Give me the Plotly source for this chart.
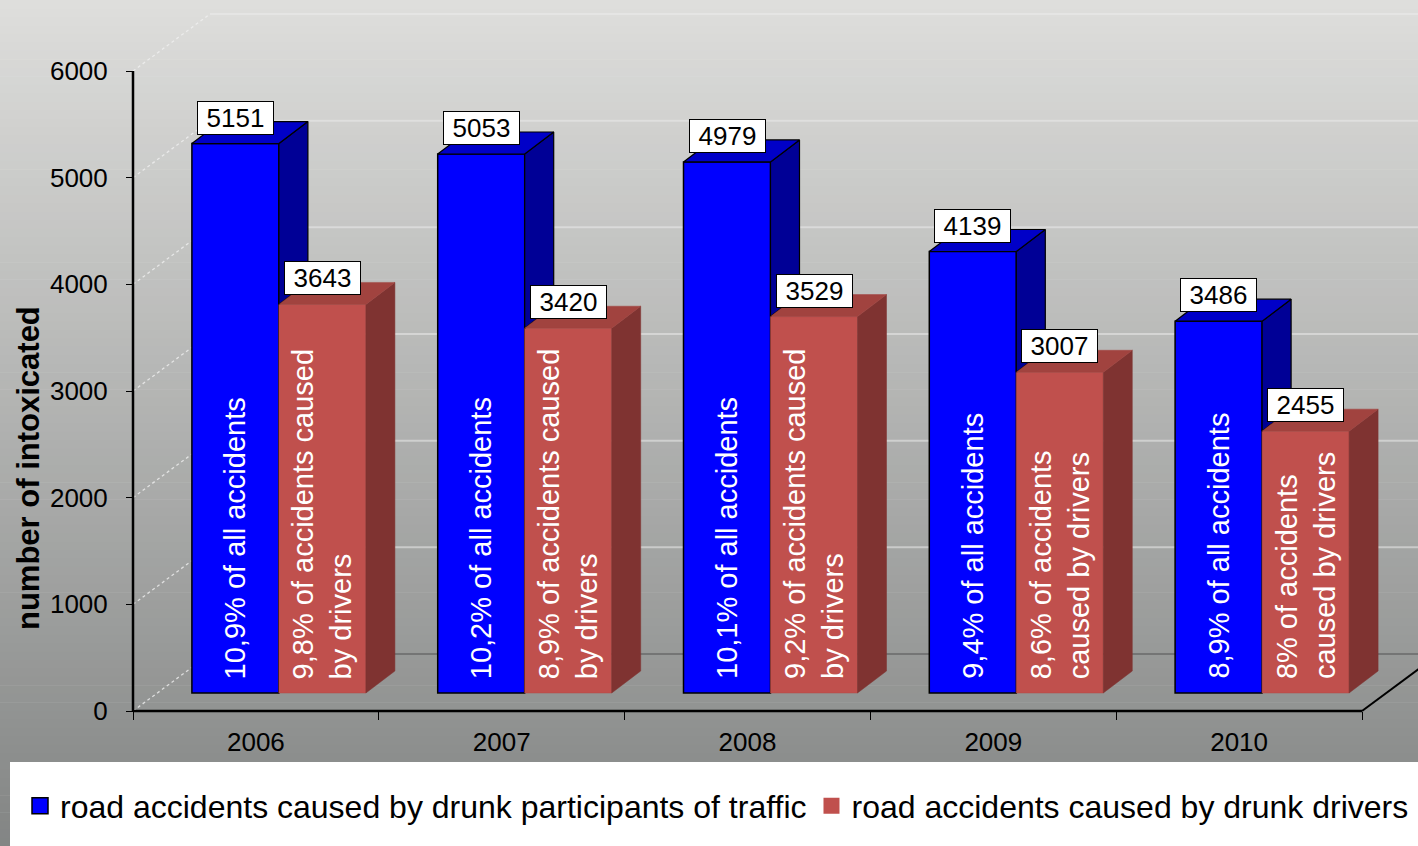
import plotly.graph_objects as go

# ---------------- data ----------------
years = ["2006", "2007", "2008", "2009", "2010"]
participants = [5151, 5053, 4979, 4139, 3486]
drivers = [3643, 3420, 3529, 3007, 2455]
participants_text = [
    "10,9% of all accidents",
    "10,2% of all accidents",
    "10,1% of all accidents",
    "9,4% of all accidents",
    "8,9% of all accidents",
]
drivers_text = [
    "9,8% of accidents caused<br>by drivers",
    "8,9% of accidents caused<br>by drivers",
    "9,2% of accidents caused<br>by drivers",
    "8,6% of accidents<br>caused by drivers",
    "8% of accidents<br>caused by drivers",
]
series_names = [
    "road accidents caused by drunk participants of traffic",
    "road accidents caused by drunk drivers",
]
y_ticks = [0, 1000, 2000, 3000, 4000, 5000, 6000]

# ---------------- geometry (pixel based styling) ----------------
W, H = 1418, 846
AX_X = 133          # px of front y axis
AX_Y = 711          # px of value 0 on front plane
SX = 245.8          # px per category
SY = 640 / 6000     # px per unit value
FONT = "Arial, Liberation Sans, sans-serif"

x_range = [-0.5 - AX_X / SX, -0.5 + (W - AX_X) / SX]
y_range = [-(H - AX_Y) / SY, AX_Y / SY]

DXu, DYu = 77 / SX, 57 / SY        # full depth of the floor
OFFX, OFFY = 23 / SX, 18 / SY      # bars' front plane offset
BDX, BDY = 29 / SX, 22 / SY        # bar depth
BW = 87 / SX                       # bar width

n = len(years)
cx = [i + OFFX for i in range(n)]
x_blue = [c - BW / 2 for c in cx]
x_red = [c + BW / 2 for c in cx]

BLUE, BLUE_TOP, BLUE_SIDE = "#0000FF", "#0000C8", "#000096"
RED, RED_TOP, RED_SIDE = "#C0504D", "#A1433F", "#7F3331"

fig = go.Figure()

fig.add_trace(go.Bar(
    x=x_blue, y=participants, base=[OFFY] * n, width=BW,
    marker=dict(color=BLUE, line=dict(color="black", width=1.5)),
    showlegend=False, hoverinfo="y", name=series_names[0],
))
fig.add_trace(go.Bar(
    x=x_red, y=drivers, base=[OFFY] * n, width=BW,
    marker=dict(color=RED, line=dict(color="#B34A47", width=0.5)),
    showlegend=False, hoverinfo="y", name=series_names[1],
))


def poly_trace(xs, ys, fill, line_color, lw):
    return go.Scatter(x=xs, y=ys, mode="lines", fill="toself", fillcolor=fill,
                      line=dict(color=line_color, width=lw), hoverinfo="skip",
                      showlegend=False, connectgaps=False)


bt_x, bt_y, bs_x, bs_y, rt_x, rt_y, rs_x, rs_y = ([] for _ in range(8))
for i in range(n):
    b = OFFY + participants[i]
    r = OFFY + drivers[i]
    x0 = cx[i] - BW
    x1 = cx[i]
    x2 = cx[i] + BW
    bt_x += [x0, x1, x1 + BDX, x0 + BDX, x0, None]
    bt_y += [b, b, b + BDY, b + BDY, b, None]
    bs_x += [x1, x1, x1 + BDX, x1 + BDX, x1, None]
    bs_y += [r, b, b + BDY, r + BDY, r, None]
    rt_x += [x1, x2, x2 + BDX, x1 + BDX, x1, None]
    rt_y += [r, r, r + BDY, r + BDY, r, None]
    rs_x += [x2, x2, x2 + BDX, x2 + BDX, x2, None]
    rs_y += [OFFY, r, r + BDY, OFFY + BDY, OFFY, None]

fig.add_trace(poly_trace(bs_x, bs_y, BLUE_SIDE, "black", 1.2))
fig.add_trace(poly_trace(bt_x, bt_y, BLUE_TOP, "black", 1.2))
fig.add_trace(poly_trace(rs_x, rs_y, RED_SIDE, RED_SIDE, 0.5))
fig.add_trace(poly_trace(rt_x, rt_y, RED_TOP, RED_TOP, 0.5))

# legend proxies
fig.add_trace(go.Scatter(x=[None], y=[None], mode="markers", name=series_names[0],
                         marker=dict(symbol="square", size=16, color=BLUE,
                                     line=dict(color="black", width=1.5))))
fig.add_trace(go.Scatter(x=[None], y=[None], mode="markers", name=series_names[1],
                         marker=dict(symbol="square", size=16, color=RED,
                                     line=dict(color=RED, width=0))))

# ---------------- shapes ----------------
shapes = []
# background gradient (full height)
NB = 100
top_c = (222, 222, 220)
bot_c = (140, 142, 141)   # colour at y = 762 px
for k in range(NB):
    y_top = k * H / NB
    y_bot = (k + 1) * H / NB + 0.6
    t = ((y_top + y_bot) / 2) / 762
    c = tuple(max(0, round(top_c[j] + (bot_c[j] - top_c[j]) * t)) for j in range(3))
    shapes.append(dict(type="rect", xref="paper", yref="paper", layer="below",
                       x0=0, x1=1, y0=max(0, 1 - y_bot / H), y1=1 - y_top / H,
                       fillcolor="rgb(%d,%d,%d)" % c, line=dict(width=0)))
# legend white area
shapes.append(dict(type="rect", xref="paper", yref="paper", layer="below",
                   x0=10 / W, x1=1, y0=0, y1=(H - 762) / H,
                   fillcolor="white", line=dict(width=0)))
# back wall gridlines & side wall diagonals
for v in y_ticks:
    if v == 0:
        shapes.append(dict(type="line", xref="x", yref="y", layer="below",
                           x0=-0.5 + DXu, x1=x_range[1], y0=v + DYu, y1=v + DYu,
                           line=dict(color="rgba(70,70,70,0.85)", width=1.2)))
    else:
        shapes.append(dict(type="line", xref="x", yref="y", layer="below",
                           x0=-0.5 + DXu, x1=x_range[1], y0=v + DYu, y1=v + DYu,
                           line=dict(color="rgba(235,235,235,0.55)", width=2)))
    shapes.append(dict(type="line", xref="x", yref="y", layer="below",
                       x0=-0.5, x1=-0.5 + DXu, y0=v, y1=v + DYu,
                       line=dict(color="rgba(240,240,240,0.8)", width=1.3, dash="dot")))
# axis lines
shapes.append(dict(type="line", xref="x", yref="y", layer="above",
                   x0=-0.5, x1=-0.5, y0=0, y1=6000, line=dict(color="black", width=2.5)))
shapes.append(dict(type="line", xref="x", yref="y", layer="above",
                   x0=-0.5, x1=n - 0.5, y0=0, y1=0, line=dict(color="black", width=2.5)))
shapes.append(dict(type="line", xref="x", yref="y", layer="above",
                   x0=n - 0.5, x1=n - 0.5 + DXu, y0=0, y1=DYu,
                   line=dict(color="black", width=2)))

# ---------------- annotations ----------------
annotations = []
for i in range(n):
    for xc, val, txt in ((x_blue[i], participants[i], participants_text[i]),
                         (x_red[i], drivers[i], drivers_text[i])):
        # value label box above the bar
        annotations.append(dict(
            x=xc, y=OFFY + val, xref="x", yref="y", text=str(val),
            showarrow=False, yanchor="bottom", yshift=9,
            width=75, height=32, bgcolor="white", bordercolor="black",
            borderwidth=1, borderpad=0,
            font=dict(size=26, color="black", family=FONT)))
        # rotated description inside the bar
        annotations.append(dict(
            x=xc, y=OFFY, xref="x", yref="y", text=txt,
            showarrow=False, textangle=-90, align="left",
            xanchor="center", yanchor="bottom", yshift=12,
            font=dict(size=29, color="white", family=FONT)))
annotations.append(dict(
    x=28 / W, y=1 - 468 / H, xref="paper", yref="paper", xanchor="center",
    yanchor="middle",
    text="<b>number of intoxicated</b>", textangle=-90, showarrow=False,
    font=dict(size=31, color="black", family=FONT)))

fig.update_layout(
    width=W, height=H,
    margin=dict(l=0, r=0, t=0, b=0),
    paper_bgcolor="white", plot_bgcolor="rgba(0,0,0,0)",
    barmode="overlay",
    font=dict(family=FONT, color="black"),
    shapes=shapes, annotations=annotations,
    xaxis=dict(range=x_range, domain=[0, 1], anchor="free", position=(H - AX_Y) / H,
               tickvals=list(range(n)), ticktext=years, ticks="outside",
               ticklen=8, tickcolor="rgba(0,0,0,0)", ticklabelstandoff=0,
               tickfont=dict(size=26, color="black", family=FONT),
               showgrid=False, zeroline=False, showline=False, fixedrange=True,
               minor=dict(tickvals=[k - 0.5 for k in range(n + 1)], ticks="outside",
                          ticklen=8, tickwidth=1.2, tickcolor="black", showgrid=False)),
    yaxis=dict(range=y_range, domain=[0, 1], anchor="free", position=AX_X / W,
               tickvals=y_ticks, ticks="outside", ticklen=7, tickwidth=1.2,
               tickcolor="black", ticklabelstandoff=13,
               tickfont=dict(size=26, color="black", family=FONT),
               showgrid=False, zeroline=False, showline=False, fixedrange=True),
    legend=dict(orientation="h", x=20 / W, xanchor="left", y=1 - 806 / H,
                yanchor="middle", bgcolor="rgba(0,0,0,0)",
                font=dict(size=32, color="black", family=FONT),
                traceorder="normal"),
    showlegend=True,
)

fig.write_html("out.html", config={"displayModeBar": False},
               post_script="document.body.style.margin='0px';")
